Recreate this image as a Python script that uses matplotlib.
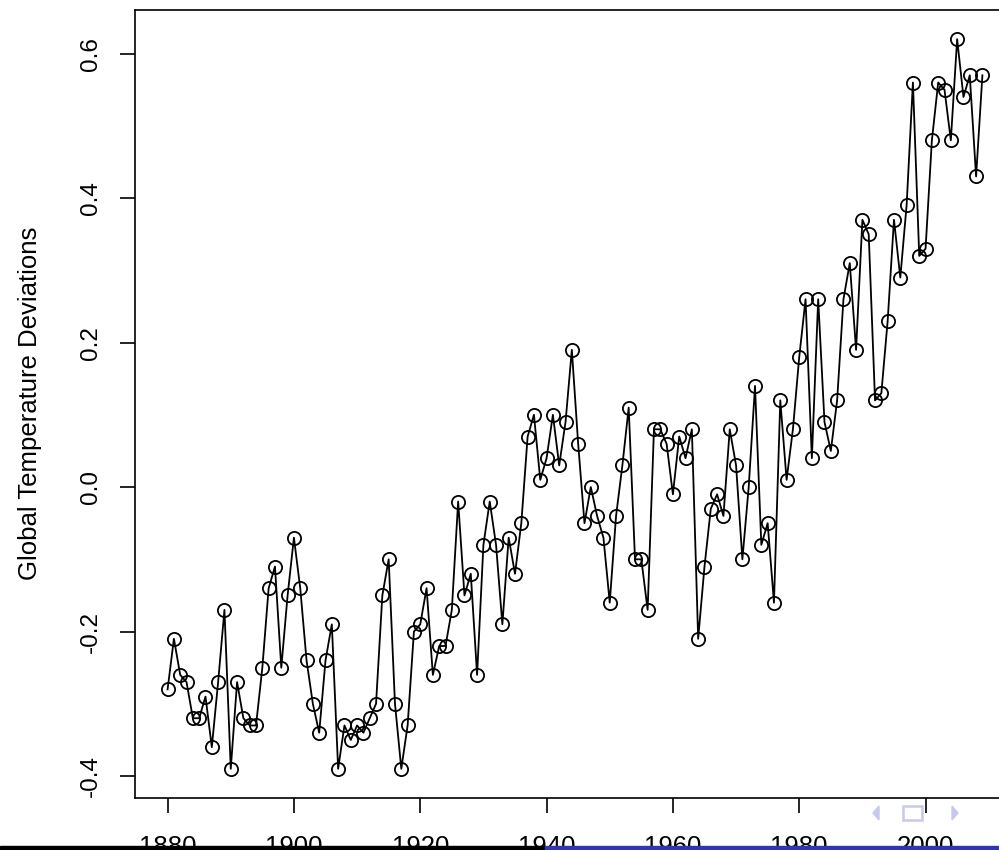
import matplotlib
matplotlib.use("Agg")
import matplotlib.pyplot as plt
from matplotlib.patches import Rectangle, Polygon

plt.rcParams['font.family'] = ['Liberation Sans', 'DejaVu Sans']

# global temperature deviations, 1880-2009
years = list(range(1880, 2010))
gtemp = [-0.28, -0.21, -0.26, -0.27, -0.32, -0.32, -0.29, -0.36, -0.27, -0.17,
         -0.39, -0.27, -0.32, -0.33, -0.33, -0.25, -0.14, -0.11, -0.25, -0.15,
         -0.07, -0.14, -0.24, -0.30, -0.34, -0.24, -0.19, -0.39, -0.33, -0.35,
         -0.33, -0.34, -0.32, -0.30, -0.15, -0.10, -0.30, -0.39, -0.33, -0.20,
         -0.19, -0.14, -0.26, -0.22, -0.22, -0.17, -0.02, -0.15, -0.12, -0.26,
         -0.08, -0.02, -0.08, -0.19, -0.07, -0.12, -0.05, 0.07, 0.10, 0.01,
         0.04, 0.10, 0.03, 0.09, 0.19, 0.06, -0.05, 0.00, -0.04, -0.07,
         -0.16, -0.04, 0.03, 0.11, -0.10, -0.10, -0.17, 0.08, 0.08, 0.06,
         -0.01, 0.07, 0.04, 0.08, -0.21, -0.11, -0.03, -0.01, -0.04, 0.08,
         0.03, -0.10, 0.00, 0.14, -0.08, -0.05, -0.16, 0.12, 0.01, 0.08,
         0.18, 0.26, 0.04, 0.26, 0.09, 0.05, 0.12, 0.26, 0.31, 0.19,
         0.37, 0.35, 0.12, 0.13, 0.23, 0.37, 0.29, 0.39, 0.56, 0.32,
         0.33, 0.48, 0.56, 0.55, 0.48, 0.62, 0.54, 0.57, 0.43, 0.57]
xticks = [1880, 1900, 1920, 1940, 1960, 1980, 2000]
yticks = [-0.4, -0.2, 0.0, 0.2, 0.4, 0.6]
ylabel = "Global Temperature Deviations"

W, H = 999, 850
fig = plt.figure(figsize=(W / 100, H / 100), dpi=100)
# plot region runs past the right edge (slide crop)
ax = fig.add_axes([135 / W, 52 / H, (1015 - 135) / W, (798 - 10) / H])

ax.plot(years, gtemp, color='black', lw=1.3, marker='o', ms=9.5,
        mfc='none', mec='black', mew=1.3)

# R-style 4% axis extension
xr = max(years) - min(years)
yr = max(gtemp) - min(gtemp)
ax.set_xlim(min(years) - 0.04 * xr, max(years) + 0.04 * xr)
ax.set_ylim(min(gtemp) - 0.04 * yr, max(gtemp) + 0.04 * yr)

ax.set_xticks(xticks)
ax.set_xticklabels([str(t) for t in xticks])
ax.set_yticks(yticks)
ax.set_yticklabels(["%.1f" % t for t in yticks], rotation=90, va='center')
ax.tick_params(length=11, width=1.2, direction='out')
ax.tick_params(axis='x', pad=16, labelsize=18.5)
ax.tick_params(axis='y', pad=13, labelsize=17.5)
for s in ax.spines.values():
    s.set_linewidth(1.2)

fig.text(30 / W, 1 - 403 / H, ylabel, rotation=90, ha='center', va='center',
         fontsize=18.5)

# beamer footline and navigation symbols
fig.add_artist(Rectangle((0, 0), 545 / W, 4 / H, transform=fig.transFigure,
                         color='black', zorder=10))
fig.add_artist(Rectangle((545 / W, 0), 1 - 545 / W, 4 / H,
                         transform=fig.transFigure, color='#3333b3', zorder=10))
nav = '#c8c8ec'
fig.add_artist(Polygon([(873 / W, 1 - 813 / H), (879 / W, 1 - 806 / H),
                        (879 / W, 1 - 820 / H)], closed=True,
                       transform=fig.transFigure, color=nav, zorder=10))
fig.add_artist(Rectangle((903 / W, 1 - 820 / H), 19 / W, 14 / H,
                         transform=fig.transFigure, fill=False, ec=nav,
                         lw=1.8, zorder=10))
fig.add_artist(Polygon([(958 / W, 1 - 813 / H), (952 / W, 1 - 806 / H),
                        (952 / W, 1 - 820 / H)], closed=True,
                       transform=fig.transFigure, color=nav, zorder=10))

fig.savefig("out.png", dpi=100)
